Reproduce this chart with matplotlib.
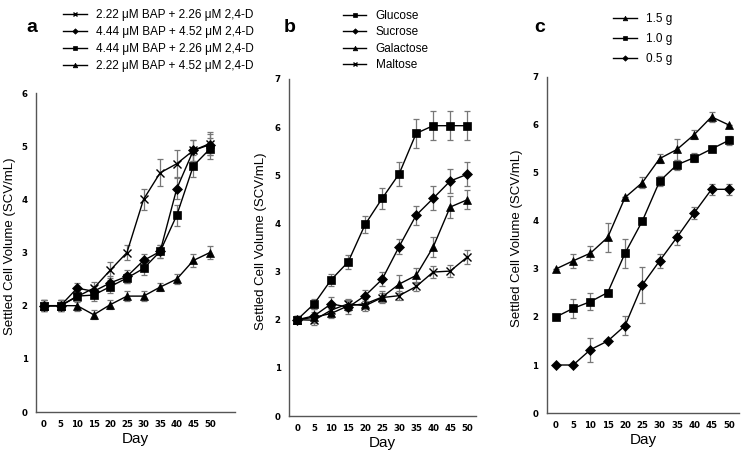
import numpy as np
import matplotlib
matplotlib.use("Agg")
import matplotlib.pyplot as plt

plt.rcParams['font.family'] = ['Liberation Sans', 'DejaVu Sans']

days = [0, 5, 10, 15, 20, 25, 30, 35, 40, 45, 50]

# Panel a: BAP + 2,4-D combinations
a_labels = ['2.22 μM BAP + 2.26 μM 2,4-D', '4.44 μM BAP + 4.52 μM 2,4-D',
            '4.44 μM BAP + 2.26 μM 2,4-D', '2.22 μM BAP + 4.52 μM 2,4-D']
a_vals = [
    [2.0, 2.0, 2.17, 2.33, 2.67, 3.0, 4.0, 4.5, 4.67, 4.92, 5.05],
    [2.0, 2.0, 2.33, 2.27, 2.43, 2.55, 2.85, 3.02, 4.2, 4.92, 5.03],
    [2.0, 2.0, 2.18, 2.2, 2.36, 2.52, 2.7, 3.02, 3.7, 4.63, 4.95],
    [2.0, 2.0, 2.0, 1.83, 2.02, 2.18, 2.18, 2.35, 2.5, 2.85, 3.0],
]
a_err = [
    [0.1, 0.1, 0.1, 0.12, 0.15, 0.15, 0.2, 0.25, 0.25, 0.2, 0.22],
    [0.1, 0.1, 0.1, 0.1, 0.12, 0.12, 0.12, 0.12, 0.2, 0.2, 0.2],
    [0.1, 0.1, 0.1, 0.12, 0.12, 0.1, 0.12, 0.12, 0.2, 0.2, 0.2],
    [0.1, 0.1, 0.1, 0.08, 0.08, 0.1, 0.1, 0.08, 0.1, 0.12, 0.12],
]
a_markers = ['x', 'D', 's', '^']

# Panel b: carbon sources
b_labels = ['Glucose', 'Sucrose', 'Galactose', 'Maltose']
b_vals = [
    [2.0, 2.33, 2.83, 3.2, 3.98, 4.52, 5.03, 5.87, 6.03, 6.03, 6.03],
    [2.0, 2.08, 2.33, 2.26, 2.5, 2.84, 3.52, 4.17, 4.52, 4.88, 5.02],
    [2.0, 2.05, 2.13, 2.29, 2.33, 2.47, 2.74, 2.92, 3.51, 4.34, 4.49],
    [2.0, 1.99, 2.2, 2.33, 2.29, 2.46, 2.5, 2.69, 2.99, 3.01, 3.3],
]
b_err = [
    [0.07, 0.1, 0.12, 0.15, 0.18, 0.22, 0.25, 0.3, 0.3, 0.3, 0.3],
    [0.07, 0.15, 0.15, 0.15, 0.12, 0.15, 0.15, 0.2, 0.25, 0.25, 0.25],
    [0.07, 0.1, 0.1, 0.1, 0.1, 0.12, 0.18, 0.15, 0.2, 0.22, 0.2],
    [0.07, 0.1, 0.1, 0.1, 0.1, 0.1, 0.1, 0.1, 0.12, 0.12, 0.15],
]
b_markers = ['s', 'D', '^', 'x']

# Panel c: inoculum weight
c_labels = ['1.5 g', '1.0 g', '0.5 g']
c_vals = [
    [3.0, 3.17, 3.33, 3.66, 4.49, 4.8, 5.3, 5.49, 5.8, 6.17, 6.0],
    [2.0, 2.18, 2.32, 2.51, 3.33, 4.0, 4.83, 5.17, 5.32, 5.5, 5.68],
    [1.0, 1.0, 1.32, 1.5, 1.82, 2.67, 3.17, 3.66, 4.17, 4.66, 4.66],
]
c_err = [
    [0.0, 0.15, 0.15, 0.3, 0.0, 0.12, 0.1, 0.22, 0.1, 0.1, 0.0],
    [0.0, 0.2, 0.18, 0.0, 0.3, 0.0, 0.1, 0.1, 0.1, 0.0, 0.1],
    [0.0, 0.0, 0.25, 0.0, 0.2, 0.38, 0.15, 0.15, 0.12, 0.12, 0.12],
]
c_markers = ['^', 's', 'D']

msize = {'x': 6, 'D': 5, 's': 6, '^': 6}


def draw_panel(ax, vals, errs, markers, labels, ymax, xlim, label_x):
    handles = []
    for v, e, m, lab in zip(vals, errs, markers, labels):
        ax.errorbar(days, v, yerr=e, fmt='none', ecolor='#777777',
                    elinewidth=0.9, capsize=2.5, capthick=0.9, zorder=2)
        h, = ax.plot(days, v, color='black', lw=1.0, marker=m,
                     markersize=msize[m], markeredgewidth=1.0 if m == 'x' else 0.5,
                     markerfacecolor='black', markeredgecolor='black',
                     label=lab, zorder=3)
        handles.append(h)
    ax.set_xlim(*xlim)
    ax.set_ylim(0, ymax)
    ax.set_xticks(days)
    ax.set_yticks(range(ymax + 1))
    for s in ['top', 'right']:
        ax.spines[s].set_visible(False)
    for s in ['left', 'bottom']:
        ax.spines[s].set_color('#555555')
        ax.spines[s].set_linewidth(1.0)
    ax.tick_params(length=0, pad=6)
    for t in ax.get_xticklabels() + ax.get_yticklabels():
        t.set_fontweight('bold')
        t.set_fontfamily('DejaVu Sans')
        t.set_fontsize(6.2)
    ax.set_xlabel('Day', fontsize=11, labelpad=2)
    ax.set_ylabel('Settled Cell Volume (SCV/mL)', fontsize=9.5)
    ax.yaxis.set_label_coords(label_x, 0.52)
    return handles


fig = plt.figure(figsize=(7.42, 4.55), dpi=100)
ax_a = fig.add_axes([0.0485, 0.0945, 0.268, 0.701])
ax_b = fig.add_axes([0.3895, 0.0857, 0.252, 0.7407])
ax_c = fig.add_axes([0.737, 0.0923, 0.2588, 0.7385])

ha = draw_panel(ax_a, a_vals, a_err, a_markers, a_labels, 6, (-2.4, 57.5), -0.10)
hb = draw_panel(ax_b, b_vals, b_err, b_markers, b_labels, 7, (-2.4, 52.6), -0.118)
hc = draw_panel(ax_c, c_vals, c_err, c_markers, c_labels, 7, (-2.6, 52.9), -0.125)

legend_kw = dict(frameon=False, loc='upper left', handlelength=2.0,
                 handletextpad=0.8, markerscale=0.55, fontsize=8.5,
                 borderaxespad=0, borderpad=0)
fig.legend(handles=ha, bbox_to_anchor=(0.085, 0.98), labelspacing=0.42, **legend_kw)
fig.legend(handles=hb, bbox_to_anchor=(0.462, 0.978), labelspacing=0.38, **legend_kw)
fig.legend(handles=hc, bbox_to_anchor=(0.826, 0.972), labelspacing=0.68, **legend_kw)

fig.text(0.036, 0.94, 'a', fontsize=14, fontweight='bold', va='center')
fig.text(0.383, 0.94, 'b', fontsize=14, fontweight='bold', va='center')
fig.text(0.72, 0.94, 'c', fontsize=14, fontweight='bold', va='center')

fig.savefig('out.png', dpi=100)
